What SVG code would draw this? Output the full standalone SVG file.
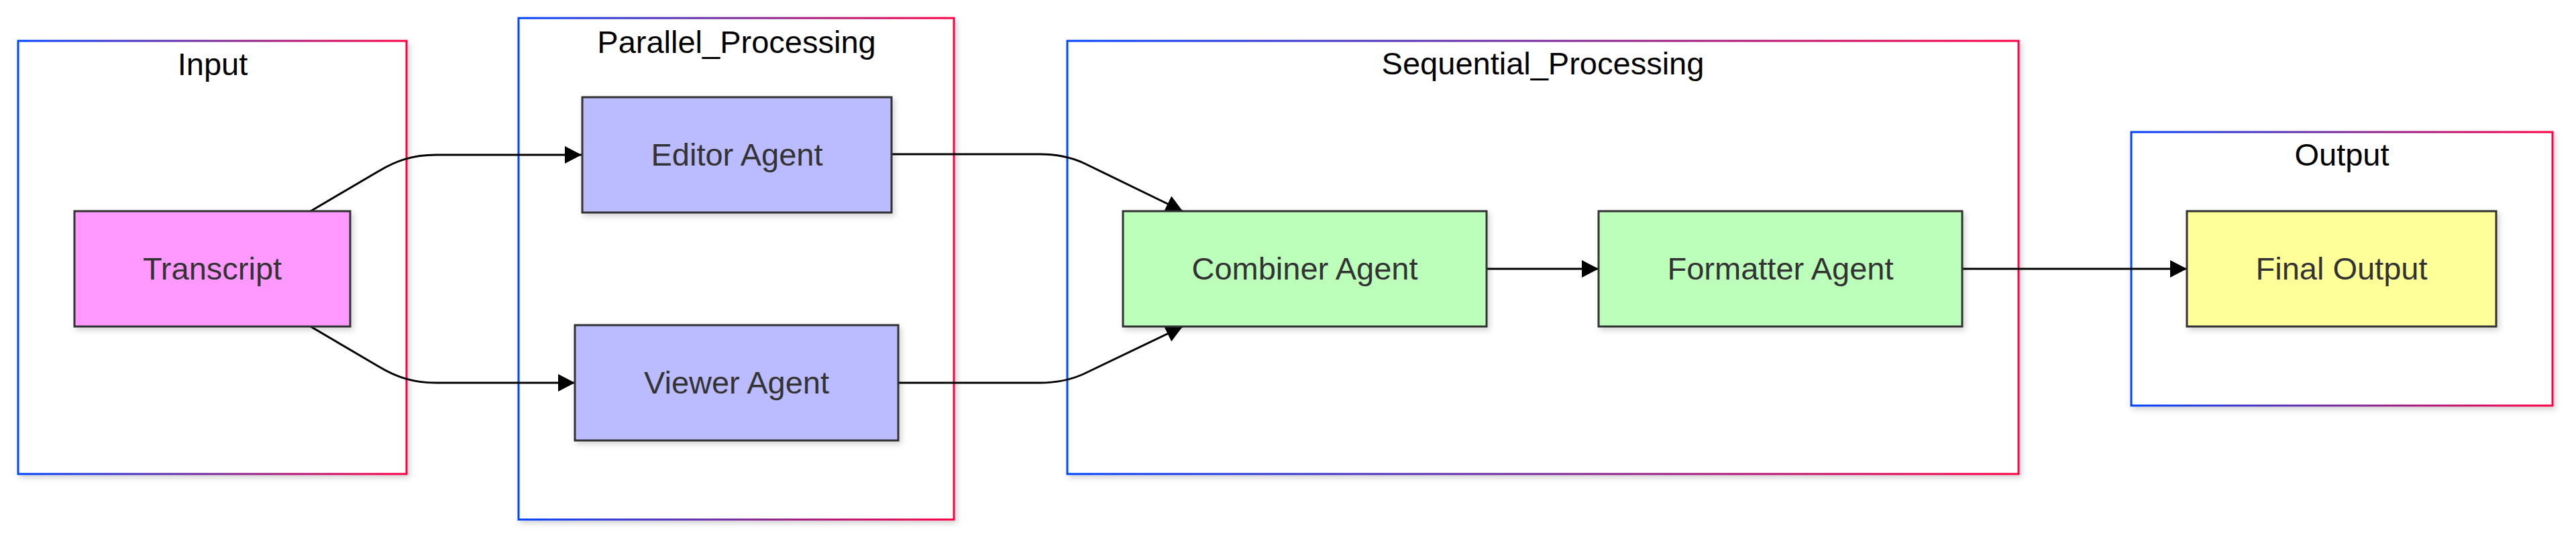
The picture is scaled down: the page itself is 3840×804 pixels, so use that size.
<svg xmlns="http://www.w3.org/2000/svg" width="3840" height="804" viewBox="0 0 3840 804">
<defs>
<linearGradient id="clusterGrad" x1="0" y1="0" x2="1" y2="0">
<stop offset="0" stop-color="#0044ff"/>
<stop offset="0.5" stop-color="#7a2a9a"/>
<stop offset="1" stop-color="#ff0044"/>
</linearGradient>
<filter id="shadow" x="-10%" y="-10%" width="120%" height="130%">
<feDropShadow dx="3" dy="4" stdDeviation="4" flood-color="#000" flood-opacity="0.18"/>
</filter>
<marker id="arrow" viewBox="0 0 25 26" refX="25" refY="13" markerWidth="25" markerHeight="26" markerUnits="userSpaceOnUse" orient="auto">
<path d="M0,0 L25,13 L0,26 z" fill="#000"/>
</marker>
</defs>
<style>
.cluster{fill:#ffffff;stroke:url(#clusterGrad);stroke-width:3;filter:url(#shadow)}
.ctitle{font-family:"Liberation Sans",Arial,sans-serif;font-size:47px;fill:#000;text-anchor:middle}
.node rect{stroke:#333;stroke-width:3;filter:url(#shadow)}
.node text{font-family:"Liberation Sans",Arial,sans-serif;font-size:47px;fill:#333;text-anchor:middle}
.edge{fill:none;stroke:#000;stroke-width:3;marker-end:url(#arrow)}
</style>
<rect width="3840" height="804" fill="#ffffff"/>
<g id="clusters">
<g id="cluster-Input"><rect class="cluster" x="27" y="61" width="579" height="646"/><text class="ctitle" x="317" y="112">Input</text></g>
<g id="cluster-Parallel_Processing"><rect class="cluster" x="773" y="27" width="649" height="748"/><text class="ctitle" x="1098" y="79">Parallel_Processing</text></g>
<g id="cluster-Sequential_Processing"><rect class="cluster" x="1591" y="61" width="1418" height="646"/><text class="ctitle" x="2300" y="111">Sequential_Processing</text></g>
<g id="cluster-Output"><rect class="cluster" x="3177" y="197" width="628" height="408"/><text class="ctitle" x="3491" y="247">Output</text></g>
</g>
<g id="connectors">
<path class="edge" d="M463,315 L565,255 C590,240 615,231 650,231 L867,231"/>
<path class="edge" d="M463,487 L565,547 C590,562 615,571 650,571 L857,571"/>
<path class="edge" d="M1329,230 L1550,230 C1575,230 1595,234 1615,243 L1763,315"/>
<path class="edge" d="M1339,571 L1550,571 C1575,571 1595,567 1615,558 L1763,487"/>
<path class="edge" d="M2216,401 L2383,401"/>
<path class="edge" d="M2925,401 L3260,401"/>
</g>
<g id="node-Transcript" class="node"><rect x="111" y="315" width="411" height="172" fill="#ff99ff"/><text x="316.5" y="417">Transcript</text></g>
<g id="node-EditorAgent" class="node"><rect x="868" y="145" width="461" height="172" fill="#bbbbff"/><text x="1098.5" y="247">Editor Agent</text></g>
<g id="node-ViewerAgent" class="node"><rect x="857" y="485" width="482" height="172" fill="#bbbbff"/><text x="1098" y="587">Viewer Agent</text></g>
<g id="node-CombinerAgent" class="node"><rect x="1674" y="315" width="542" height="172" fill="#bbffbb"/><text x="1945" y="417">Combiner Agent</text></g>
<g id="node-FormatterAgent" class="node"><rect x="2383" y="315" width="542" height="172" fill="#bbffbb"/><text x="2654" y="417">Formatter Agent</text></g>
<g id="node-FinalOutput" class="node"><rect x="3260" y="315" width="461" height="172" fill="#ffff99"/><text x="3490.5" y="417">Final Output</text></g>
</svg>
